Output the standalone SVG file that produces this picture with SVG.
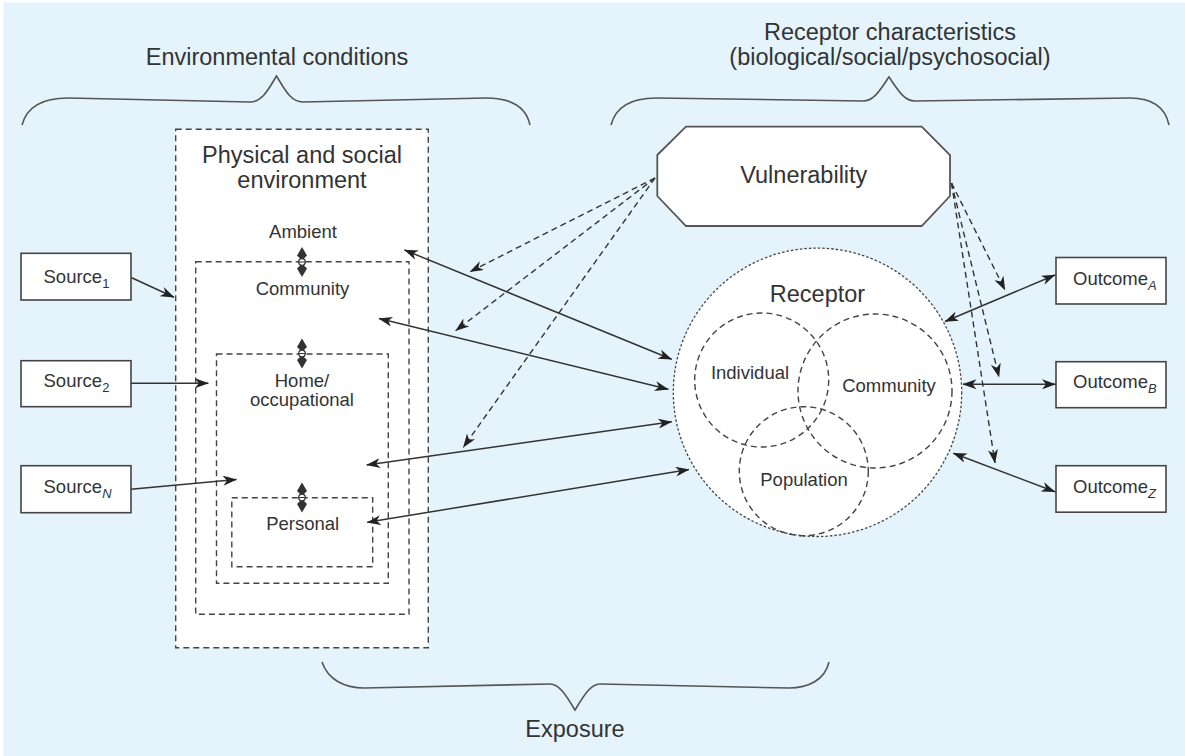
<svg xmlns="http://www.w3.org/2000/svg" xmlns:xlink="http://www.w3.org/1999/xlink" width="1185" height="756" viewBox="0 0 1185 756">
<style>
text{font-family:"Liberation Sans",Arial,sans-serif;fill:#333;}
.big{font-size:23.5px;text-anchor:middle;}
.lbl{font-size:18.5px;text-anchor:middle;}
.box{font-size:18.5px;}
.sub{font-size:13px;}
.isub{font-size:13px;font-style:italic;}
.solidbox{fill:#fff;stroke:#444;stroke-width:1.6;}
.dbox{fill:#fff;stroke:#444;stroke-width:1.4;stroke-dasharray:6,4;}
.dboxn{fill:none;stroke:#444;stroke-width:1.4;stroke-dasharray:6,4;}
.brace{fill:none;stroke:#555;stroke-width:1.6;}
.conn{fill:none;stroke:#333;stroke-width:1.5;}
.dash{fill:none;stroke:#333;stroke-width:1.4;stroke-dasharray:6,4;}
.circ{fill:none;stroke:#444;stroke-width:1.4;stroke-dasharray:6,4;}
</style>
<defs>
<marker id="ah" viewBox="0 0 14 10" markerWidth="14" markerHeight="10" refX="13.5" refY="5" orient="auto-start-reverse" markerUnits="userSpaceOnUse">
<path d="M0,0 L14,5 L0,10 L4,5 Z" fill="#222"/>
</marker>
<g id="dbl">
<path d="M0,-15 L5,-6.5 L1.5,-3 L-1.5,-3 L-5,-6.5 Z" fill="#333"/>
<path d="M0,15 L5,6.5 L1.5,3 L-1.5,3 L-5,6.5 Z" fill="#333"/>
<circle cx="0" cy="0" r="3.3" fill="#fff" stroke="#333" stroke-width="1.2"/>
<line x1="-3.3" y1="0" x2="3.3" y2="0" stroke="#333" stroke-width="1"/>
</g>
</defs>

<rect x="0" y="0" width="1185" height="756" fill="#fff"/>
<rect x="3.5" y="2.5" width="1181.5" height="753.5" fill="#e5f4fc"/>

<g id="braces">
<path class="brace" d="M22,125 C27,106 44,98 68,98 L250,102 C262,102 268,90 276.5,76 C285,90 291,102 303,102 L486,98 C509,98 526,106 530,125"/>
<path class="brace" d="M611,125 C616,106 632,98 656,98 L863,101 C874,101 880,90 889,77 C898,90 904,101 915,101 L1130,98 C1152,98 1165,106 1169,125"/>
<path class="brace" d="M322,662 C328,680 345,688 364,688 L550,684 C560,684 567,697 575,710 C583,697 590,684 600,684 L789,688 C808,688 825,680 829,662"/>
</g>

<g id="headings">
<text class="big" x="277" y="65">Environmental conditions</text>
<text class="big" x="890" y="40">Receptor characteristics</text>
<text class="big" x="890" y="65">(biological/social/psychosocial)</text>
<text class="big" x="575" y="737">Exposure</text>
</g>

<g id="environment">
<rect class="dbox" x="175.7" y="129.3" width="252.6" height="518.4"/>
<text class="big" x="302" y="163.3">Physical and social</text>
<text class="big" x="302" y="188.3">environment</text>
<text class="lbl" x="303" y="238.3">Ambient</text>
</g>
<g id="community-level">
<rect class="dboxn" x="195.7" y="261.7" width="213.3" height="352.6"/>
<text class="lbl" x="302.5" y="295">Community</text>
</g>
<g id="home-level">
<rect class="dboxn" x="216.5" y="354" width="171.8" height="229.3"/>
<text class="lbl" x="302" y="386.7">Home/</text>
<text class="lbl" x="302" y="406">occupational</text>
</g>
<g id="personal-level">
<rect class="dboxn" x="231.8" y="497.7" width="140.9" height="69"/>
<text class="lbl" x="302.7" y="530">Personal</text>
</g>
<g id="level-links">
<use xlink:href="#dbl" x="302" y="262"/>
<use xlink:href="#dbl" x="302" y="353.5"/>
<use xlink:href="#dbl" x="302" y="497.5"/>
</g>

<g id="source1">
<rect class="solidbox" x="21" y="253.3" width="110" height="46.7"/>
<text class="box" x="43.5" y="282.5">Source<tspan class="sub" dy="5">1</tspan></text>
</g>
<g id="source2">
<rect class="solidbox" x="21" y="360.7" width="110" height="46"/>
<text class="box" x="43.5" y="386.5">Source<tspan class="sub" dy="5">2</tspan></text>
</g>
<g id="sourceN">
<rect class="solidbox" x="21" y="465.7" width="110" height="47"/>
<text class="box" x="43.5" y="492.5">Source<tspan class="isub" dy="5">N</tspan></text>
</g>

<g id="vulnerability">
<polygon points="686,126.7 921.7,126.7 950,155 950,196 921.7,226 686,226 657.3,196 657.3,155" fill="#fff" stroke="#555" stroke-width="1.8"/>
<text class="big" x="803.8" y="182.7">Vulnerability</text>
</g>

<g id="receptor">
<circle cx="817.5" cy="392.3" r="144.2" fill="#fff" stroke="#444" stroke-width="1.3" stroke-dasharray="2.5,2"/>
<text class="big" x="817.5" y="301.7">Receptor</text>
</g>
<g id="individual">
<circle class="circ" cx="761.7" cy="380" r="67"/>
<text class="lbl" x="750" y="379.3">Individual</text>
</g>
<g id="community">
<circle class="circ" cx="875" cy="391" r="77"/>
<text class="lbl" x="889" y="391.7">Community</text>
</g>
<g id="population">
<circle class="circ" cx="803.8" cy="471.2" r="64.5"/>
<text class="lbl" x="804" y="486">Population</text>
</g>

<g id="outcomeA">
<rect class="solidbox" x="1056" y="257.5" width="110" height="46.5"/>
<text class="box" x="1073" y="285">Outcome<tspan class="isub" dy="5">A</tspan></text>
</g>
<g id="outcomeB">
<rect class="solidbox" x="1056" y="361.7" width="110" height="46"/>
<text class="box" x="1073" y="388.3">Outcome<tspan class="isub" dy="5">B</tspan></text>
</g>
<g id="outcomeZ">
<rect class="solidbox" x="1056" y="465.7" width="110" height="46.5"/>
<text class="box" x="1073" y="492.5">Outcome<tspan class="isub" dy="5">Z</tspan></text>
</g>

<g id="connectors">
<line class="conn" x1="131.7" y1="277.7" x2="174" y2="297.3" marker-end="url(#ah)"/>
<line class="conn" x1="131" y1="383.3" x2="208.3" y2="383.3" marker-end="url(#ah)"/>
<line class="conn" x1="131" y1="489.3" x2="236.5" y2="479.5" marker-end="url(#ah)"/>

<line class="conn" x1="404.5" y1="250" x2="671.7" y2="359.3" marker-start="url(#ah)" marker-end="url(#ah)"/>
<line class="conn" x1="379" y1="318.5" x2="668.3" y2="389.3" marker-start="url(#ah)" marker-end="url(#ah)"/>
<line class="conn" x1="366.7" y1="465" x2="671.7" y2="421.7" marker-start="url(#ah)" marker-end="url(#ah)"/>
<line class="conn" x1="367.3" y1="522.3" x2="689" y2="469.5" marker-start="url(#ah)" marker-end="url(#ah)"/>

<line class="conn" x1="945" y1="321.5" x2="1055" y2="275" marker-start="url(#ah)" marker-end="url(#ah)"/>
<line class="conn" x1="963" y1="384.3" x2="1055.5" y2="384.3" marker-start="url(#ah)" marker-end="url(#ah)"/>
<line class="conn" x1="953.3" y1="453.3" x2="1055" y2="491.7" marker-start="url(#ah)" marker-end="url(#ah)"/>

<line class="dash" x1="655" y1="178" x2="470" y2="271.7" marker-end="url(#ah)"/>
<line class="dash" x1="655" y1="178" x2="455.7" y2="330.7" marker-end="url(#ah)"/>
<line class="dash" x1="655" y1="178" x2="463.3" y2="447.3" marker-end="url(#ah)"/>
<line class="dash" x1="951.5" y1="183" x2="1005" y2="290" marker-end="url(#ah)"/>
<line class="dash" x1="951.5" y1="183" x2="999" y2="377" marker-end="url(#ah)"/>
<line class="dash" x1="951.5" y1="183" x2="995" y2="463" marker-end="url(#ah)"/>
</g>
</svg>
